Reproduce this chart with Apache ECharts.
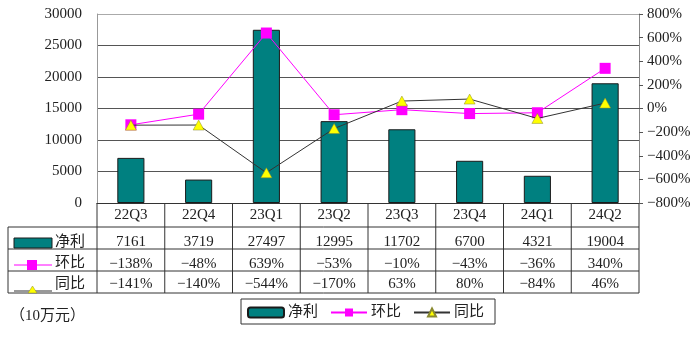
<!DOCTYPE html>
<html><head><meta charset="utf-8">
<script src="https://cdn.jsdelivr.net/npm/echarts@6/dist/echarts.min.js"></script>
<style>html,body{margin:0;padding:0;background:#fff}#c{width:700px;height:344px}</style>
</head><body><div id="c"></div>
<script>
const categories = ['22Q3','22Q4','23Q1','23Q2','23Q3','23Q4','24Q1','24Q2'];
const netProfit = [7161, 3719, 27497, 12995, 11702, 6700, 4321, 19004];
const qoq = [-138, -48, 639, -53, -10, -43, -36, 340];
const yoy = [-141, -140, -544, -170, 63, 80, -84, 46];
const seriesNames = ['净利', '环比', '同比'];
const unitLabel = '（10万元）';
const leftTicks = {min: 0, max: 30000, interval: 5000};
const rightTicks = {min: -800, max: 800, interval: 200};

const FONT = "'Liberation Serif','Noto Sans CJK SC',serif";
const TEAL = '#008080', MAG = '#ff00ff', YEL = '#ffff00', LINE = '#333';
const fmtPct = v => String(v).replace('-', '−') + '%';

const G = {left: 97, right: 61, top: 14, bottom: 141};
const W = 700, H = 344;

function tableAxis(data, offset, margin, showLine) {
  return {
    type: 'category', position: 'bottom', gridIndex: 0, offset: offset,
    data: data,
    axisLine: {show: showLine, lineStyle: {color: LINE, width: 1}},
    axisTick: {show: false},
    axisLabel: {show: true, interval: 0, margin: margin, verticalAlign: 'middle',
      fontFamily: FONT, fontSize: 15, color: '#222'},
    splitLine: {show: false}
  };
}

// table borders (layout only)
const tableTop = H - G.bottom, tableBottom = tableTop + 90;
const rowLines = [tableTop + 24, tableTop + 46, tableTop + 68, tableTop + 90];
const plotW = W - G.left - G.right;
const tableLines = [];
for (let i = 0; i <= categories.length; i++) {
  const x = G.left + plotW * i / categories.length;
  tableLines.push({type: 'line', shape: {x1: x, y1: tableTop, x2: x, y2: tableBottom}, style: {stroke: LINE, lineWidth: 1}});
}
rowLines.forEach(y => tableLines.push({type: 'line', shape: {x1: 8, y1: y, x2: W - G.right, y2: y}, style: {stroke: LINE, lineWidth: 1}}));
tableLines.push({type: 'line', shape: {x1: 8, y1: rowLines[0], x2: 8, y2: tableBottom}, style: {stroke: LINE, lineWidth: 1}});

const chart = echarts.init(document.getElementById('c'), null, {renderer: 'canvas'});
chart.setOption({
  animation: false,
  backgroundColor: '#fff',
  textStyle: {fontFamily: FONT},
  grid: {left: G.left, right: G.right, top: G.top, bottom: G.bottom, containLabel: false, outerBoundsMode: 'none'},
  legend: {
    left: 241, top: 299, padding: [6, 11, 4, 6], itemGap: 12, itemWidth: 36, itemHeight: 10,
    borderColor: LINE, borderWidth: 1,
    textStyle: {fontFamily: FONT, fontSize: 15, color: '#222', padding: [0, 0, 0, -1]},
    data: seriesNames
  },
  xAxis: [
    tableAxis(categories, 0, 12, true),
    tableAxis(netProfit.map(String), 24, 15, false),
    tableAxis(qoq.map(fmtPct), 46, 15, false),
    tableAxis(yoy.map(fmtPct), 68, 13, false)
  ],
  yAxis: [
    {type: 'value', min: leftTicks.min, max: leftTicks.max, interval: leftTicks.interval,
     axisLine: {show: true, lineStyle: {color: '#999'}},
     axisTick: {show: false},
     axisLabel: {margin: 15, fontFamily: FONT, fontSize: 15, color: '#222', formatter: v => String(v)},
     splitLine: {show: true, lineStyle: {color: ['#555','#555','#555','#555','#555','#555','#aaa'], width: 1}}},
    {type: 'value', min: rightTicks.min, max: rightTicks.max, interval: rightTicks.interval, position: 'right',
     axisLine: {show: true, lineStyle: {color: '#888'}},
     axisTick: {show: true, length: 4, inside: false, lineStyle: {color: '#555'}},
     axisLabel: {margin: 8, fontFamily: FONT, fontSize: 15, color: '#222', formatter: v => fmtPct(v)},
     splitLine: {show: false}}
  ],
  series: [
    {name: seriesNames[0], type: 'bar', xAxisIndex: 0, yAxisIndex: 0, data: netProfit, barWidth: '40%',
     itemStyle: {color: TEAL, borderColor: '#1a1a1a', borderWidth: 1}},
    {name: seriesNames[1], type: 'line', xAxisIndex: 0, yAxisIndex: 1, data: qoq,
     symbol: 'rect', symbolSize: 11, lineStyle: {color: MAG, width: 1}, itemStyle: {color: MAG}, z: 3},
    {name: seriesNames[2], type: 'line', xAxisIndex: 0, yAxisIndex: 1, data: yoy,
     symbol: 'triangle', symbolSize: [11, 10], lineStyle: {color: LINE, width: 1},
     itemStyle: {color: YEL, borderColor: '#8a8a30', borderWidth: 0.5}, z: 4}
  ],
  graphic: tableLines.concat([
    {type: 'rect', shape: {x: 14, y: 238, width: 38, height: 10}, style: {fill: TEAL, stroke: '#1a1a1a', lineWidth: 1}},
    {type: 'line', shape: {x1: 14, y1: 265, x2: 52, y2: 265}, style: {stroke: MAG, lineWidth: 1}},
    {type: 'rect', shape: {x: 27, y: 260, width: 10, height: 10}, style: {fill: MAG}},
    {type: 'line', shape: {x1: 14, y1: 291, x2: 52, y2: 291}, style: {stroke: LINE, lineWidth: 1}},
    {type: 'polygon', shape: {points: [[28, 293], [37, 293], [32.5, 286]]}, style: {fill: YEL, stroke: '#8a8a30', lineWidth: 0.5}},
    {type: 'text', x: 55, y: 242, style: {text: seriesNames[0], font: "15px " + FONT, fill: '#222', verticalAlign: 'middle'}},
    {type: 'text', x: 55, y: 263, style: {text: seriesNames[1], font: "15px " + FONT, fill: '#222', verticalAlign: 'middle'}},
    {type: 'text', x: 55, y: 284, style: {text: seriesNames[2], font: "15px " + FONT, fill: '#222', verticalAlign: 'middle'}},
    {type: 'text', x: 10, y: 316, style: {text: unitLabel, font: "15px " + FONT, fill: '#222', verticalAlign: 'middle'}}
  ])
});
</script></body></html>
